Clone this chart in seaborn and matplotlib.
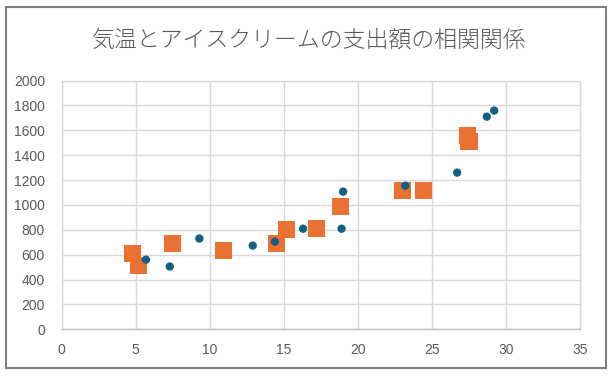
# 気温とアイスクリーム支出額の散布図

import pandas as pd
import matplotlib.pyplot as plt
import seaborn as sns
from matplotlib.patches import Rectangle

# データ
temp_a = [5.7, 7.3, 9.3, 12.9, 14.4, 16.3, 18.9, 19.0, 23.2, 26.7, 28.7, 29.2]
spend_a = [560, 505, 730, 673, 705, 809, 809, 1107, 1155, 1260, 1710, 1759]
temp_b = [4.8, 5.2, 7.5, 10.9, 14.5, 15.2, 17.2, 18.8, 23.0, 24.4, 27.4, 27.5]
spend_b = [606, 512, 686, 630, 686, 799, 807, 990, 1113, 1113, 1561, 1507]
x_ticks = [0, 5, 10, 15, 20, 25, 30, 35]
y_ticks = list(range(0, 2001, 200))

df_a = pd.DataFrame({'気温': temp_a, '支出額': spend_a})
df_b = pd.DataFrame({'気温': temp_b, '支出額': spend_b})

#スタイル設定
sns.set_style('white')
plt.rcParams['font.family'] = ['Liberation Sans', 'Noto Sans CJK JP', 'DejaVu Sans']

fig = plt.figure(figsize=(6.1, 3.82), dpi=100)
ax = fig.add_axes([0.101, 0.138, 0.850, 0.651])

#散布図
sns.scatterplot(x='気温', y='支出額', data=df_b, marker='s', s=150,
                color='#E97132', edgecolor='none', ax=ax, zorder=3)
sns.scatterplot(x='気温', y='支出額', data=df_a, marker='o', s=36,
                color='#156082', edgecolor='none', ax=ax, zorder=4)

ax.set_xlim(0, 35)
ax.set_ylim(0, 2000)
ax.set_xticks(x_ticks)
ax.set_yticks(y_ticks)
ax.grid(True, color='#D9D9D9', linewidth=1)
ax.set_axisbelow(True)
ax.set_xlabel('')
ax.set_ylabel('')
ax.tick_params(axis='both', length=0, labelsize=10, labelcolor='#595959')
ax.tick_params(axis='x', pad=10)
ax.tick_params(axis='y', pad=12)
for side in ['top', 'right', 'left']:
    ax.spines[side].set_color('#D9D9D9')
    ax.spines[side].set_linewidth(1)
ax.spines['bottom'].set_color('#BFBFBF')
ax.spines['bottom'].set_linewidth(1)

#タイトル
fig.text(0.507, 0.893, '気温とアイスクリームの支出額の相関関係',
         ha='center', va='center', fontsize=16.5, color='#595959',
         family=['Noto Sans CJK JP', 'DejaVu Sans'], fontweight='light')

#外枠
fig.patches.append(Rectangle((6 / 610, 1 - 368 / 382), 600 / 610, 361 / 382,
                             transform=fig.transFigure, fill=False,
                             edgecolor='#7F7F7F', linewidth=1.5))

plt.savefig('out.png', dpi=100)
